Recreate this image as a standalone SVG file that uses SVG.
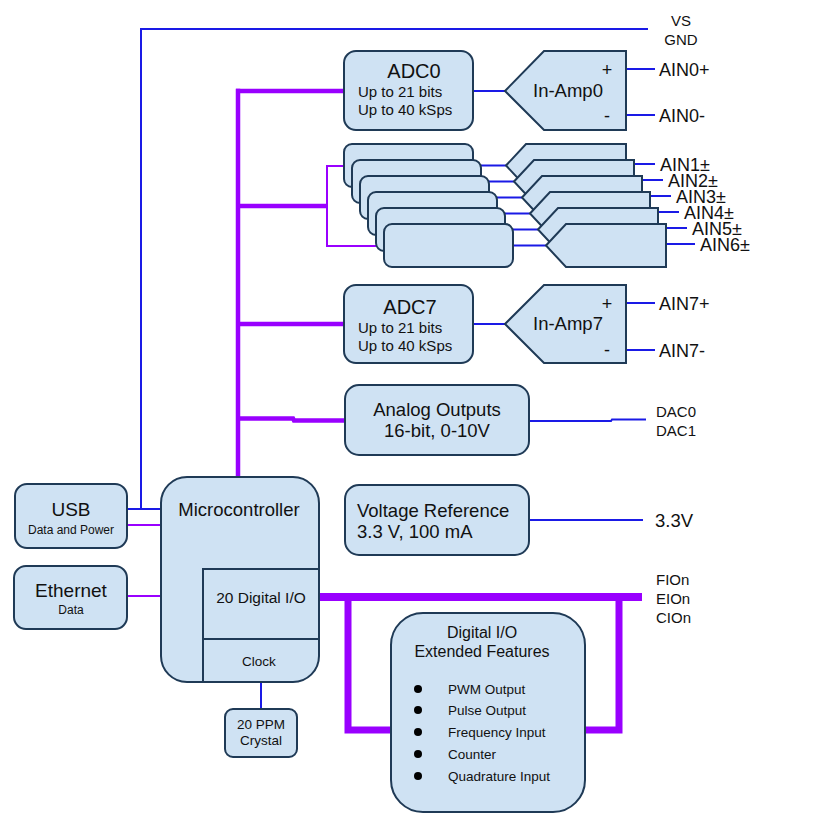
<svg xmlns="http://www.w3.org/2000/svg" width="831" height="823" viewBox="0 0 831 823">
<style>
.box{fill:#cfe2f3;stroke:#1f3a56;stroke-width:2}
.b{stroke:#1a1ae6;stroke-width:2;fill:none}
.p{stroke:#9900ff;stroke-width:4.5;fill:none}
.pt{stroke:#9900ff;stroke-width:2;fill:none}
.pb{stroke:#9900ff;stroke-width:8;fill:none}
.pu{stroke:#9900ff;stroke-width:7;fill:none}
text{font-family:"Liberation Sans",Arial,sans-serif;fill:#111}
.c{text-anchor:middle}
.t18{font-size:18.5px}
.t15{font-size:15px}
.t13{font-size:13.5px}
.t12{font-size:12px}
.sg{font-size:18px}
</style>
<rect width="831" height="823" fill="#fff"/>
<g id="connectors">
<polyline class="b" points="648,29 141,29 141,509 160,509"/>
<line class="b" x1="127" y1="509" x2="160" y2="509"/>
<line class="pt" x1="127" y1="525" x2="160" y2="525"/>
<line class="pt" x1="127" y1="596" x2="160" y2="596"/>
<line class="p" x1="238" y1="88.8" x2="238" y2="477"/>
<line class="p" x1="236" y1="91" x2="345" y2="91"/>
<line class="p" x1="236" y1="324" x2="345" y2="324"/>
<line class="p" x1="236" y1="206" x2="327" y2="206"/>
<polyline class="pt" points="344,166 327,166 327,246 384,246"/>
<polyline class="p" points="236,418.5 293,418.5 294,420.5 345,420.5"/>
<line class="b" x1="473" y1="91" x2="505" y2="91"/>
<line class="b" x1="473" y1="324" x2="505" y2="324"/>
<line class="b" x1="626" y1="69" x2="655" y2="69"/>
<line class="b" x1="626" y1="115" x2="655" y2="115"/>
<line class="b" x1="626" y1="303" x2="655" y2="303"/>
<line class="b" x1="626" y1="350" x2="655" y2="350"/>
<line class="b" x1="473" y1="165.5" x2="506" y2="165.5"/>
<line class="b" x1="481" y1="181.5" x2="514" y2="181.5"/>
<line class="b" x1="489" y1="197.5" x2="522" y2="197.5"/>
<line class="b" x1="497" y1="213.5" x2="530" y2="213.5"/>
<line class="b" x1="505" y1="229.5" x2="538" y2="229.5"/>
<line class="b" x1="513" y1="245.5" x2="546" y2="245.5"/>
<line class="b" x1="630" y1="164" x2="655" y2="164"/>
<line class="b" x1="638" y1="180" x2="663" y2="180"/>
<line class="b" x1="646" y1="196" x2="671" y2="196"/>
<line class="b" x1="654" y1="212" x2="679" y2="212"/>
<line class="b" x1="662" y1="228" x2="687" y2="228"/>
<line class="b" x1="666" y1="244" x2="695" y2="244"/>
<polyline class="b" points="529,421 611,421 612,419.5 646,419.5"/>
<line class="b" x1="529" y1="520" x2="643" y2="520"/>
<line class="b" x1="261" y1="682" x2="261" y2="709"/>
<line class="pb" x1="320" y1="597" x2="642" y2="597"/>
<polyline class="pu" points="348,597 348,730 391,730"/>
<polyline class="pu" points="619,597 619,730 585,730"/>
</g>
<g id="adc0">
<rect class="box" x="344" y="51" width="129" height="79" rx="12"/>
<text class="c" x="414" y="78" style="font-size:20px">ADC0</text>
<text class="t15" x="358" y="97">Up to 21 bits</text>
<text class="t15" x="358" y="115">Up to 40 kSps</text>
</g>
<g id="inamp0">
<path class="box" d="M505,91 L544,51 L626,51 L626,130 L544,130 Z"/>
<text class="c t18" x="568" y="97">In-Amp0</text>
<text class="c sg" x="607" y="76">+</text>
<text class="c sg" x="607" y="122">-</text>
</g>
<g id="stack-adcs">
<rect class="box" x="344" y="144" width="129" height="43" rx="8"/>
<rect class="box" x="352" y="160" width="129" height="43" rx="8"/>
<rect class="box" x="360" y="176" width="129" height="43" rx="8"/>
<rect class="box" x="368" y="192" width="129" height="43" rx="8"/>
<rect class="box" x="376" y="208" width="129" height="43" rx="8"/>
<rect class="box" x="384" y="224" width="129" height="43" rx="8"/>
</g>
<g id="stack-amps">
<path class="box" d="M506,165.5 L526,144 L626,144 L626,187 L526,187 Z"/>
<path class="box" d="M514,181.5 L534,160 L634,160 L634,203 L534,203 Z"/>
<path class="box" d="M522,197.5 L542,176 L642,176 L642,219 L542,219 Z"/>
<path class="box" d="M530,213.5 L550,192 L650,192 L650,235 L550,235 Z"/>
<path class="box" d="M538,229.5 L558,208 L658,208 L658,251 L558,251 Z"/>
<path class="box" d="M546,245.5 L566,224 L666,224 L666,267 L566,267 Z"/>
</g>
<g id="ain-labels">
<text class="sg" x="659" y="76">AIN0+</text>
<text class="sg" x="659" y="122">AIN0-</text>
<text class="sg" x="660" y="171">AIN1±</text>
<text class="sg" x="668" y="187">AIN2±</text>
<text class="sg" x="676" y="203">AIN3±</text>
<text class="sg" x="684" y="219">AIN4±</text>
<text class="sg" x="692" y="235">AIN5±</text>
<text class="sg" x="700" y="251">AIN6±</text>
<text class="sg" x="659" y="310">AIN7+</text>
<text class="sg" x="659" y="357">AIN7-</text>
</g>
<g id="adc7">
<rect class="box" x="344" y="285" width="129" height="78" rx="12"/>
<text class="c" x="410" y="314" style="font-size:20px">ADC7</text>
<text class="t15" x="358" y="333">Up to 21 bits</text>
<text class="t15" x="358" y="351">Up to 40 kSps</text>
</g>
<g id="inamp7">
<path class="box" d="M505,324 L544,285 L626,285 L626,363 L544,363 Z"/>
<text class="c t18" x="568" y="330">In-Amp7</text>
<text class="c sg" x="607" y="310">+</text>
<text class="c sg" x="607" y="356">-</text>
</g>
<g id="analog-outputs">
<rect class="box" x="345" y="385" width="184" height="70" rx="14"/>
<text class="c t18" x="437" y="416">Analog Outputs</text>
<text class="c t18" x="437" y="437">16-bit, 0-10V</text>
</g>
<g id="voltage-reference">
<rect class="box" x="345" y="485" width="184" height="70" rx="14"/>
<text class="t18" x="357" y="517">Voltage Reference</text>
<text class="t18" x="357" y="538">3.3 V, 100 mA</text>
</g>
<g id="power-labels">
<text class="c t15" x="681" y="26">VS</text>
<text class="c t15" x="681" y="45">GND</text>
<text class="t15" x="656" y="417">DAC0</text>
<text class="t15" x="656" y="436">DAC1</text>
<text class="t18" x="655" y="527">3.3V</text>
<text class="t15" x="656" y="585">FIOn</text>
<text class="t15" x="656" y="604">EIOn</text>
<text class="t15" x="656" y="623">CIOn</text>
</g>
<g id="usb">
<rect class="box" x="15" y="484" width="112" height="64" rx="12"/>
<text class="c" x="71" y="516" style="font-size:19px">USB</text>
<text class="c t12" x="71" y="534">Data and Power</text>
</g>
<g id="ethernet">
<rect class="box" x="14" y="566" width="113" height="63" rx="12"/>
<text class="c" x="71" y="597" style="font-size:19px">Ethernet</text>
<text class="c t12" x="71" y="614">Data</text>
</g>
<g id="microcontroller">
<rect class="box" x="161" y="477" width="158" height="205" rx="26"/>
<path d="M203,682 V569 H319 M203,639 H319" fill="none" stroke="#1f3a56" stroke-width="2"/>
<text class="c t18" x="239" y="516">Microcontroller</text>
<text class="c" x="261" y="603" style="font-size:15.5px">20 Digital I/O</text>
<text class="c t13" x="259" y="666">Clock</text>
</g>
<g id="crystal">
<rect class="box" x="225" y="709" width="72" height="48" rx="8"/>
<text class="c t13" x="261" y="729">20 PPM</text>
<text class="c t13" x="261" y="745">Crystal</text>
</g>
<g id="digital-extended">
<rect class="box" x="391" y="613" width="194" height="199" rx="32"/>
<text class="c" x="482" y="638" style="font-size:16px">Digital I/O</text>
<text class="c" x="482" y="657" style="font-size:16px">Extended Features</text>
<g fill="#000">
<circle cx="418" cy="689" r="4"/>
<circle cx="418" cy="710" r="4"/>
<circle cx="418" cy="732" r="4"/>
<circle cx="418" cy="754" r="4"/>
<circle cx="418" cy="776" r="4"/>
</g>
<text class="t13" x="448" y="694">PWM Output</text>
<text class="t13" x="448" y="715">Pulse Output</text>
<text class="t13" x="448" y="737">Frequency Input</text>
<text class="t13" x="448" y="759">Counter</text>
<text class="t13" x="448" y="781">Quadrature Input</text>
</g>
</svg>
